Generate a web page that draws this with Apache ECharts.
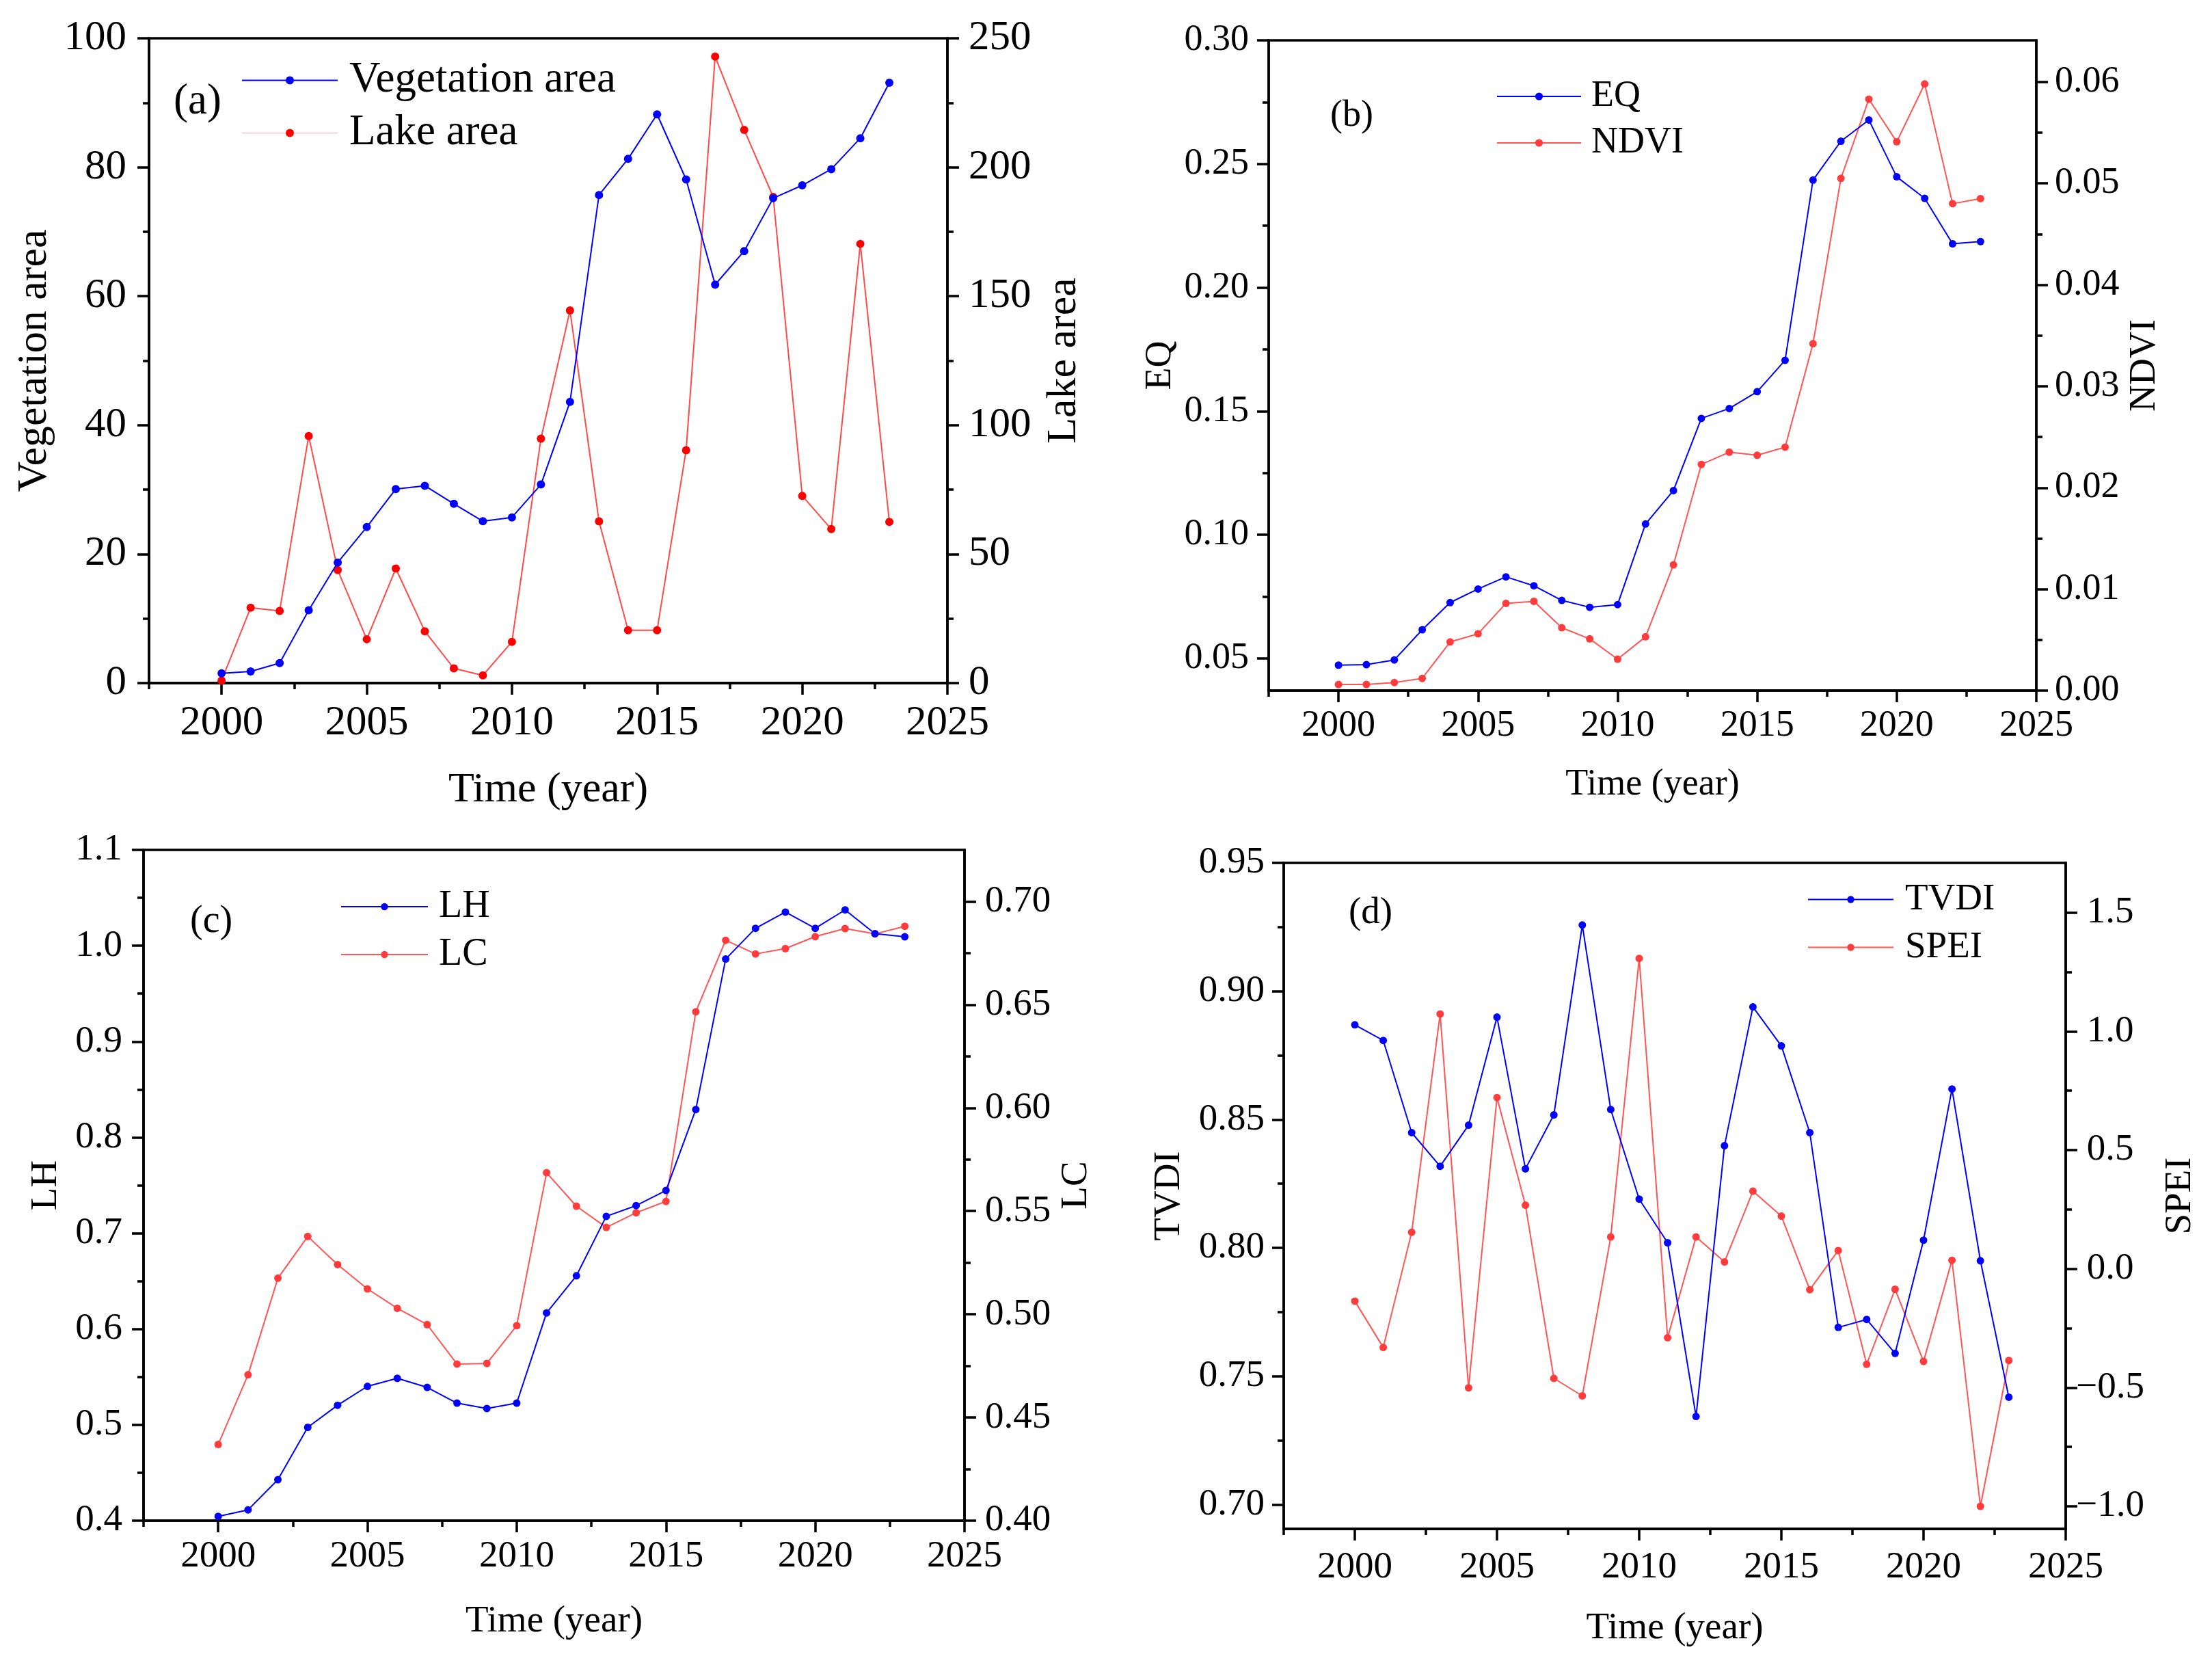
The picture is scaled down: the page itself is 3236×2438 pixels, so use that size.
<!DOCTYPE html>
<html>
<head>
<meta charset="utf-8">
<script src="https://cdn.jsdelivr.net/npm/echarts@6/dist/echarts.min.js"></script>
<style>
html,body{margin:0;padding:0;background:#fff;}
#main{width:3236px;height:2438px;}
</style>
</head>
<body>
<div id="main"></div>
<script>
// ---------- data ----------
const years = [2000,2001,2002,2003,2004,2005,2006,2007,2008,2009,2010,2011,2012,2013,2014,2015,2016,2017,2018,2019,2020,2021,2022,2023];
const vegetationArea = [1.5,1.8,3.1,11.3,18.7,24.2,30.1,30.6,27.8,25.1,25.7,30.8,43.6,75.7,81.3,88.2,78.1,61.8,67.0,75.2,77.2,79.7,84.5,93.1];
const lakeArea = [1.0,29.2,28.0,95.8,43.8,17.0,44.4,20.1,5.7,3.0,16.0,94.8,144.5,62.7,20.5,20.5,90.3,242.9,214.5,188.5,72.6,59.7,170.3,62.5];
const eq = [0.0473,0.0475,0.0494,0.0616,0.0726,0.0781,0.0830,0.0794,0.0735,0.0707,0.0718,0.1044,0.1179,0.1471,0.1511,0.1579,0.1706,0.2435,0.2592,0.2678,0.2448,0.2361,0.2177,0.2186];
const ndvi = [0.0006,0.0006,0.0008,0.0012,0.0048,0.0056,0.0086,0.0088,0.0062,0.0051,0.0031,0.0053,0.0124,0.0223,0.0235,0.0232,0.0240,0.0342,0.0505,0.0583,0.0541,0.0598,0.0480,0.0485];
const lh = [0.4045,0.4113,0.4428,0.4974,0.5205,0.5402,0.5486,0.5391,0.5227,0.5171,0.5227,0.6168,0.6556,0.7176,0.7288,0.7446,0.8291,0.9861,1.0182,1.0351,1.0182,1.0374,1.0126,1.0093];
const lc = [0.4369,0.4707,0.5175,0.5377,0.5241,0.5123,0.5029,0.4950,0.4759,0.4762,0.4945,0.5686,0.5524,0.5421,0.5492,0.5547,0.6466,0.6812,0.6746,0.6772,0.6830,0.6869,0.6843,0.6880];
const tvdi = [0.8869,0.8808,0.8449,0.8318,0.8478,0.8899,0.8308,0.8518,0.9258,0.8539,0.8190,0.8020,0.7343,0.8398,0.8939,0.8787,0.8449,0.7690,0.7721,0.7589,0.8030,0.8619,0.7950,0.7418];
const spei = [-0.136,-0.331,0.154,1.073,-0.501,0.721,0.268,-0.461,-0.535,0.134,1.307,-0.290,0.134,0.029,0.327,0.222,-0.088,0.077,-0.402,-0.086,-0.390,0.036,-1.000,-0.386];

// ---------- tick labels ----------
const yearTicks = [2000,2005,2010,2015,2020,2025];
const yearMinorTicks = [1997.5,2002.5,2007.5,2012.5,2017.5,2022.5];
const vegTicks = [0,20,40,60,80,100];
const vegMinorTicks = [10,30,50,70,90];
const lakeTicks = [0,50,100,150,200,250];
const lakeMinorTicks = [25,75,125,175,225];
const eqTicks = [0.05,0.10,0.15,0.20,0.25,0.30];
const eqMinorTicks = [0.075,0.125,0.175,0.225,0.275];
const ndviTicks = [0,0.01,0.02,0.03,0.04,0.05,0.06];
const ndviMinorTicks = [0.005,0.015,0.025,0.035,0.045,0.055];
const lhTicks = [0.4,0.5,0.6,0.7,0.8,0.9,1.0,1.1];
const lhMinorTicks = [0.45,0.55,0.65,0.75,0.85,0.95,1.05];
const lcTicks = [0.40,0.45,0.50,0.55,0.60,0.65,0.70];
const lcMinorTicks = [0.425,0.475,0.525,0.575,0.625,0.675];
const tvdiTicks = [0.70,0.75,0.80,0.85,0.90,0.95];
const tvdiMinorTicks = [0.725,0.775,0.825,0.875,0.925];
const speiTicks = [-1.0,-0.5,0,0.5,1.0,1.5];
const speiMinorTicks = [-0.75,-0.25,0.25,0.75,1.25];

// ---------- build ----------
const FONT = '"Liberation Serif", "Times New Roman", serif';
const BLUE = '#0000FF';
const RED = '#FF0000';
const RED2 = '#FF3B3B';
const grids = [], xAxes = [], yAxes = [], seriesList = [], legends = [], graphics = [];

function pair(arr){ return years.map((y,i)=>[y, arr[i]]); }

function addXAxes(gi, fs, nameGap, margin){
  const base = {type:'value', gridIndex:gi, min:1997.5, max:2025, position:'bottom',
    splitLine:{show:false}, minorTick:{show:false}};
  xAxes.push(Object.assign({}, base, {
    name:'Time (year)', nameLocation:'middle', nameGap:nameGap,
    nameTextStyle:{fontFamily:FONT, fontSize:fs.name, color:'#000'},
    axisLine:{show:true, onZero:false, lineStyle:{color:'#000', width:3.5}},
    axisTick:{show:true, inside:false, length:17, lineStyle:{color:'#000', width:3.5}, customValues:yearTicks},
    axisLabel:{show:true, margin:margin, fontFamily:FONT, fontSize:fs.tick, color:'#000', customValues:yearTicks,
      formatter:v=>String(Math.round(v))}
  }));
  xAxes.push(Object.assign({}, base, {
    axisLine:{show:false, onZero:false},
    axisTick:{show:true, inside:false, length:9, lineStyle:{color:'#000', width:3.5}, customValues:yearMinorTicks},
    axisLabel:{show:false}
  }));
}

function addYAxes(gi, side, c, fs){
  const base = {type:'value', gridIndex:gi, position:side, min:c.min, max:c.max, scale:true,
    splitLine:{show:false}, minorTick:{show:false}};
  const idx = yAxes.length;
  yAxes.push(Object.assign({}, base, {
    name:c.name, nameLocation:'middle', nameGap:c.nameGap,
    nameTextStyle:{fontFamily:FONT, fontSize:fs.name, color:'#000'},
    axisLine:{show:true, onZero:false, lineStyle:{color:'#000', width:3.5}},
    axisTick:{show:true, inside:false, length:17, lineStyle:{color:'#000', width:3.5}, customValues:c.ticks},
    axisLabel:{show:true, margin:c.margin, align:c.align, fontFamily:FONT, fontSize:fs.tick, color:'#000',
      customValues:c.ticks, formatter:c.fmt}
  }));
  yAxes.push(Object.assign({}, base, {
    axisLine:{show:false, onZero:false},
    axisTick:{show:true, inside:false, length:9, lineStyle:{color:'#000', width:3.5}, customValues:c.minor},
    axisLabel:{show:false}
  }));
  return idx;
}

function addPanel(p){
  const gi = grids.length;
  grids.push({left:p.grid[0], top:p.grid[1], width:p.grid[2], height:p.grid[3],
    show:true, borderColor:'#000', borderWidth:3.5, backgroundColor:'transparent', containLabel:false});
  const xi = xAxes.length;
  addXAxes(gi, p.fs, p.xNameGap, p.xMargin);
  const li = addYAxes(gi, 'left', p.left, p.fs);
  const ri = addYAxes(gi, 'right', p.right, p.fs);
  p.series.forEach(s=>{
    seriesList.push({
      type:'line', name:s.name, xAxisIndex:xi, yAxisIndex: s.side==='left'?li:ri,
      data:pair(s.data), symbol:'circle', symbolSize:p.symbolSize, showSymbol:true,
      lineStyle:{color:s.line, width:2}, itemStyle:{color:s.marker},
      emphasis:{disabled:true}, animation:false, z:s.z||2
    });
  });
  legends.push({
    orient:'vertical', left:p.legend.left, top:p.legend.top, padding:0,
    itemWidth:p.legend.w, itemHeight:p.legend.h, itemGap:p.legend.gap,
    selectedMode:false,
    data:p.series.map(s=>({name:s.name, lineStyle: s.legendLine?{color:s.legendLine}:undefined})),
    textStyle:{fontFamily:FONT, fontSize:p.fs.legend, lineHeight:p.fs.legend, color:'#000', padding:[0,0,0,p.legend.pad]}
  });
  graphics.push({type:'text', x:p.letter[0], y:p.letter[1],
    style:{text:p.letter[2], font:p.fs.legend+'px '+FONT, fill:'#000', verticalAlign:'middle', align:'left'}});
}

const minusFmt = d => v => { const s = Math.abs(v) < 1e-9 ? (0).toFixed(d) : v.toFixed(d); return s.replace('-', '\u2212'); };

// (a)
addPanel({
  grid:[218,56,1168,943], fs:{tick:61, name:62, legend:63}, xNameGap:126, xMargin:28, symbolSize:12,
  left:{name:'Vegetation area', min:0, max:100, ticks:vegTicks, minor:vegMinorTicks, nameGap:136, margin:33, fmt:v=>String(Math.round(v))},
  right:{name:'Lake area', min:0, max:250, ticks:lakeTicks, minor:lakeMinorTicks, nameGap:140, margin:31, fmt:v=>String(Math.round(v))},
  series:[
    {name:'Vegetation area', data:vegetationArea, side:'left', line:BLUE, marker:BLUE, z:3},
    {name:'Lake area', data:lakeArea, side:'right', line:'#FF4A4A', marker:RED, legendLine:'#FFD3D3', z:2}
  ],
  legend:{left:353, top:86, w:140, h:15, gap:14, pad:12},
  letter:[254,149,'(a)']
});
// (b)
addPanel({
  grid:[1856,59,1123,951], fs:{tick:54, name:54, legend:54}, xNameGap:111, xMargin:25, symbolSize:11,
  left:{name:'EQ', min:0.037, max:0.30, ticks:eqTicks, minor:eqMinorTicks, nameGap:131, margin:29, fmt:v=>v.toFixed(2)},
  right:{name:'NDVI', min:0, max:0.0641, ticks:ndviTicks, minor:ndviMinorTicks, nameGap:132, margin:27, fmt:v=>v.toFixed(2)},
  series:[
    {name:'EQ', data:eq, side:'left', line:BLUE, marker:BLUE, z:3},
    {name:'NDVI', data:ndvi, side:'right', line:'#FF5555', marker:RED2, z:2}
  ],
  legend:{left:2189, top:114, w:123, h:14, gap:14, pad:10},
  letter:[1946,170,'(b)']
});
// (c)
addPanel({
  grid:[210,1243,1201,981], fs:{tick:55, name:55, legend:56}, xNameGap:120, xMargin:25, symbolSize:11,
  left:{name:'LH', min:0.4, max:1.1, ticks:lhTicks, minor:lhMinorTicks, nameGap:115, margin:31, fmt:v=>v.toFixed(1)},
  right:{name:'LC', min:0.40, max:0.725, ticks:lcTicks, minor:lcMinorTicks, nameGap:136, margin:30, fmt:v=>v.toFixed(2)},
  series:[
    {name:'LH', data:lh, side:'left', line:BLUE, marker:BLUE, z:3},
    {name:'LC', data:lc, side:'right', line:'#FF5555', marker:RED2, z:2}
  ],
  legend:{left:498, top:1298, w:127, h:13, gap:14, pad:11},
  letter:[278,1348,'(c)']
});
// (d)
addPanel({
  grid:[1878,1262,1144,974], fs:{tick:55, name:55, legend:55}, xNameGap:118, xMargin:29, symbolSize:11,
  left:{name:'TVDI', min:0.6905, max:0.95, ticks:tvdiTicks, minor:tvdiMinorTicks, nameGap:140, margin:28, fmt:v=>v.toFixed(2)},
  right:{name:'SPEI', min:-1.095, max:1.709, ticks:speiTicks, minor:speiMinorTicks, nameGap:140, margin:65, align:'center', fmt:minusFmt(1)},
  series:[
    {name:'TVDI', data:tvdi, side:'left', line:BLUE, marker:BLUE, z:3},
    {name:'SPEI', data:spei, side:'right', line:'#FF5555', marker:RED2, z:2}
  ],
  legend:{left:2644, top:1288, w:125, h:13, gap:15, pad:12},
  letter:[1973,1336,'(d)']
});

const chart = echarts.init(document.getElementById('main'), null, {renderer:'canvas', width:3236, height:2438});
chart.setOption({
  backgroundColor:'#ffffff',
  animation:false,
  textStyle:{fontFamily:FONT},
  grid:grids, xAxis:xAxes, yAxis:yAxes, series:seriesList, legend:legends, graphic:graphics
});
</script>
</body>
</html>
